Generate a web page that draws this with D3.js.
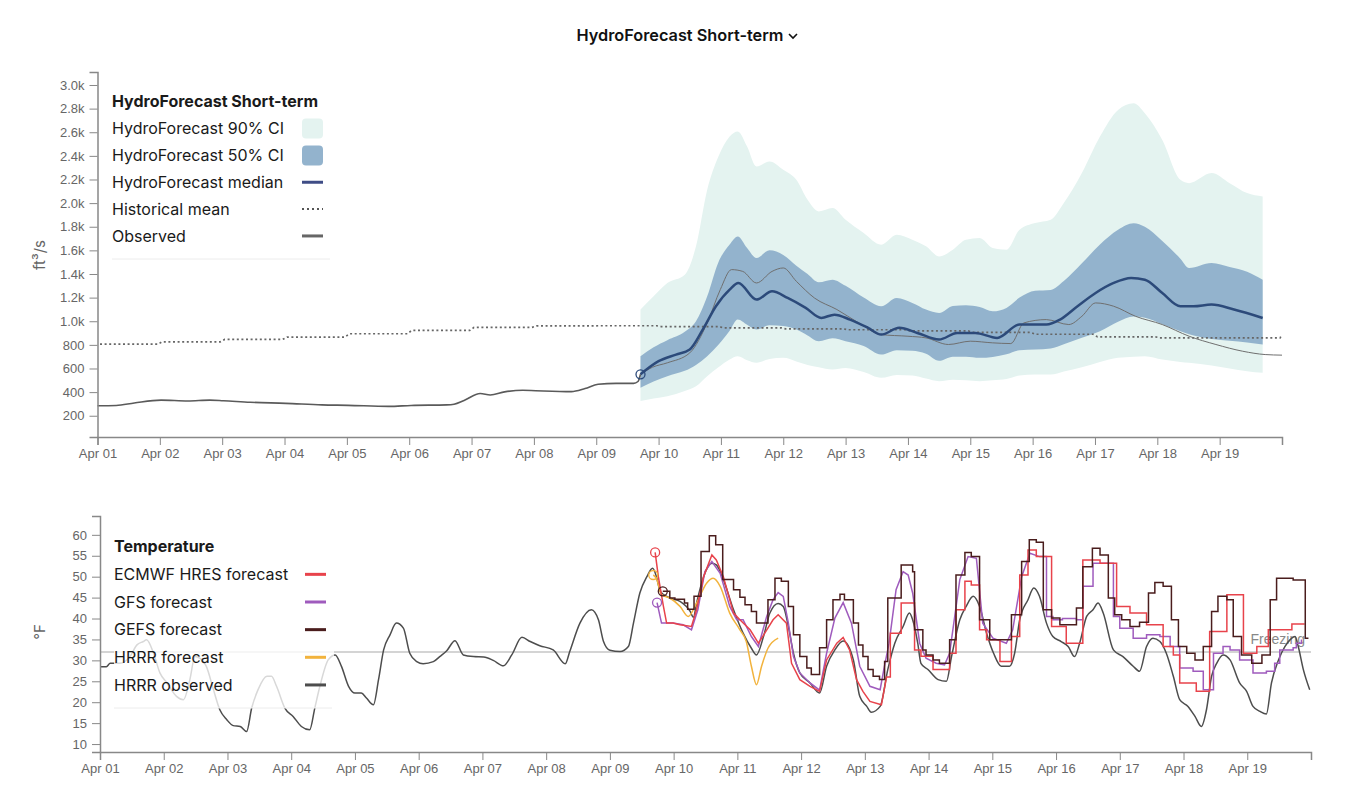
<!DOCTYPE html>
<html>
<head>
<meta charset="utf-8">
<script src="https://cdn.jsdelivr.net/npm/d3@7"></script>
<style>
  body { margin: 0; background: #fff; }
  svg { display: block; font-family: Inter, "Noto Sans", sans-serif; }
  .axis text { font-family: "Liberation Sans", Arial, sans-serif; font-size: 13px; fill: #666; }
  .axis path, .axis line { stroke: #888; }
  .axis path { stroke-width: 1.5; }
  .legend text { font-size: 16px; fill: #1a1a1a; }
  .legend .title { font-weight: 700; }
</style>
</head>
<body>
<svg width="1368" height="808"></svg>
<script>
// ---- streamflow (ft3/s), days since Apr 01 00:00 ----
const flowObserved = [
  [0, 285], [0.3, 287], [0.59, 308], [1.02, 332], [1.45, 325], [1.8, 332], [2.02, 327],
  [2.45, 314], [3.02, 305], [3.6, 292], [4.02, 288], [4.67, 279], [5.03, 287], [5.6, 292],
  [5.72, 298], [5.88, 330], [6.14, 388], [6.3, 376], [6.53, 402], [6.82, 416], [7.03, 412],
  [7.6, 404], [7.82, 430], [8.03, 466], [8.32, 474], [8.6, 474], [8.67, 490], [8.71, 551],
  [8.9, 610], [9.14, 648], [9.5, 732], [9.78, 986], [9.99, 1268], [10.17, 1437], [10.35, 1422],
  [10.57, 1324], [10.82, 1422], [11.0, 1451], [11.21, 1338], [11.5, 1197], [11.86, 1099],
  [12.21, 986], [12.57, 887], [13.0, 873], [13.29, 859], [13.65, 803], [14.0, 831],
  [14.36, 817], [14.65, 811], [14.86, 986], [15.22, 1014], [15.58, 972], [15.79, 1042],
  [16.01, 1155], [16.3, 1127], [16.65, 1042], [17.08, 972], [17.51, 873], [17.94, 803],
  [18.37, 746], [18.73, 718], [19.0, 713]
];
const histMean = [806, 826, 846, 866, 894, 922, 948, 960, 962, 955, 944, 935, 928, 918, 905, 890, 868, 860, 860, 890];
const bandDays = [8.71, 8.92, 9.14, 9.42, 9.6, 9.78, 9.96, 10.14, 10.27, 10.42, 10.57, 10.78, 11.0, 11.21,
  11.39, 11.57, 11.79, 12.0, 12.29, 12.57, 12.82, 13.07, 13.29, 13.5, 13.72, 13.93, 14.15, 14.36, 14.58,
  14.79, 15.04, 15.29, 15.5, 15.79, 16.08, 16.37, 16.62, 16.8, 17.08, 17.37, 17.51, 17.87, 18.16, 18.44, 18.69];
const ci90Hi = [1099, 1211, 1324, 1394, 1634, 2113, 2394, 2563, 2606, 2479, 2310, 2352, 2282, 2197,
  2028, 1930, 1958, 1859, 1747, 1648, 1732, 1690, 1634, 1549, 1606, 1690, 1704, 1620, 1606,
  1775, 1831, 1859, 2000, 2254, 2563, 2789, 2845, 2761, 2535, 2197, 2169, 2254, 2169, 2085, 2056];
const ci90Lo = [324, 345, 366, 410, 450, 535, 610, 676, 704, 670, 648, 680, 690, 660,
  630, 610, 592, 604, 570, 521, 545, 540, 515, 493, 505, 500, 493, 500, 510,
  540, 549, 549, 575, 610, 655, 690, 700, 704, 676, 655, 648, 625, 600, 577, 563];
const ci50Hi = [704, 780, 840, 910, 1000, 1211, 1500, 1650, 1718, 1620, 1535, 1600, 1560, 1470,
  1400, 1330, 1352, 1300, 1200, 1127, 1197, 1155, 1099, 1070, 1130, 1135, 1120, 1084, 1113,
  1200, 1258, 1265, 1340, 1490, 1650, 1775, 1830, 1800, 1680, 1530, 1451, 1493, 1460, 1420, 1352];
const ci50Lo = [437, 490, 535, 580, 630, 704, 800, 920, 1014, 970, 930, 965, 960, 930,
  880, 831, 855, 830, 790, 718, 755, 750, 725, 665, 700, 700, 690, 698, 720,
  755, 761, 770, 805, 860, 915, 995, 1040, 1030, 975, 915, 890, 850, 835, 820, 803];
const flowMedian = [
  [8.71, 551], [9.0, 662], [9.28, 718], [9.5, 761], [9.71, 930], [9.92, 1127], [10.14, 1268],
  [10.28, 1324], [10.57, 1183], [10.82, 1253], [11.07, 1197], [11.36, 1113], [11.61, 1028],
  [11.82, 1056], [12.07, 1014], [12.36, 944], [12.57, 887], [12.86, 944], [13.15, 901],
  [13.5, 845], [13.79, 901], [14.08, 901], [14.43, 859], [14.79, 972], [15.22, 972],
  [15.44, 1014], [15.72, 1127], [16.01, 1239], [16.3, 1324], [16.58, 1366], [16.8, 1352],
  [17.08, 1239], [17.37, 1127], [17.58, 1127], [17.87, 1141], [18.23, 1099], [18.69, 1028]
];

// ---- temperature (°F) ----
const hrrrObserved = [
  [0, 28.5], [0.1, 28.5], [0.16, 29.3], [0.31, 29.3], [0.47, 30.9], [0.58, 33.7], [0.68, 34.5],
  [0.73, 34.9], [0.84, 31.7], [0.94, 27], [1.05, 24.6], [1.2, 21.4], [1.31, 20.6], [1.41, 25.4],
  [1.49, 30.9], [1.57, 30.5], [1.67, 28.5], [1.78, 23], [1.88, 18.2], [1.99, 15.8], [2.09, 14.4],
  [2.2, 14.2], [2.3, 13], [2.38, 18.6], [2.48, 23], [2.62, 26.2], [2.69, 26.2], [2.77, 23.8],
  [2.9, 18.6], [3.03, 16.6], [3.16, 14.2], [3.29, 13.4], [3.37, 18.6], [3.45, 23.8], [3.58, 30.1],
  [3.69, 31.3], [3.79, 28.5], [3.9, 23.8], [4.0, 22.2], [4.1, 22.2], [4.18, 21], [4.29, 19.4],
  [4.37, 25.4], [4.45, 32.5], [4.55, 36.1], [4.65, 38.9], [4.76, 37.7], [4.86, 31.7], [4.97, 29.7],
  [5.07, 29.2], [5.23, 29.7], [5.33, 30.9], [5.44, 32.3], [5.57, 34.7], [5.7, 31.3], [5.86, 30.9],
  [6.02, 30.8], [6.17, 30], [6.33, 28.7], [6.46, 31.3], [6.62, 35.5], [6.75, 34.5], [6.9, 33.5],
  [7.11, 32.5], [7.3, 29.2], [7.37, 32.1], [7.53, 38.9], [7.71, 42.1], [7.82, 39.7], [7.9, 34.5],
  [8.0, 32.4], [8.16, 32.1], [8.29, 33.3], [8.37, 38.9], [8.47, 46.1], [8.58, 50], [8.67, 52],
  [8.73, 50], [8.79, 46.5], [8.94, 44.9], [9.1, 44.1], [9.26, 41.7], [9.31, 40.3], [9.36, 43.7],
  [9.47, 50], [9.6, 53.2], [9.67, 52.8], [9.78, 49.3], [9.94, 42.1], [10.09, 36.5], [10.22, 32.9],
  [10.3, 31.3], [10.41, 35.7], [10.51, 41.3], [10.64, 43.6], [10.72, 42.9], [10.8, 38.1],
  [10.88, 31.7], [10.98, 27], [11.14, 24.6], [11.29, 22.2], [11.4, 28.6], [11.53, 32.5],
  [11.66, 34.6], [11.82, 30.1], [11.92, 21.4], [12.03, 19], [12.1, 17.6], [12.24, 19],
  [12.36, 27.8], [12.47, 34.1], [12.6, 38.1], [12.7, 41.3], [12.75, 39.7], [12.83, 34.1],
  [12.88, 29.3], [12.99, 27.8], [13.15, 25.4], [13.28, 25], [13.36, 30.9], [13.49, 39.7],
  [13.59, 42.9], [13.7, 45.3], [13.8, 42.9], [13.91, 36.5], [14.02, 31.7], [14.14, 28.6],
  [14.27, 28.6], [14.35, 31.7], [14.43, 39.7], [14.56, 44.5], [14.65, 47.3], [14.74, 45.3],
  [14.85, 38.9], [14.95, 35.7], [15.08, 34.5], [15.19, 33.3], [15.29, 30.9], [15.37, 34.1],
  [15.48, 40.5], [15.58, 42.1], [15.66, 43.7], [15.74, 41.3], [15.9, 32.5], [16.05, 30.9],
  [16.21, 28.6], [16.31, 27.4], [16.42, 33.3], [16.52, 35.3], [16.63, 34.5], [16.73, 31.7],
  [16.84, 26.2], [16.94, 20.6], [17.07, 19], [17.18, 16.6], [17.28, 14.2], [17.36, 18.2],
  [17.44, 26.2], [17.52, 29.3], [17.62, 31.3], [17.73, 30.1], [17.88, 24.6], [17.99, 22.6],
  [18.09, 19], [18.2, 17.8], [18.3, 17.2], [18.38, 24.6], [18.49, 30.1], [18.59, 33.3],
  [18.67, 34.9], [18.75, 35.7], [18.8, 33.3], [18.88, 27.8], [18.98, 23]
];
const hrrrForecast = [
  [8.68, 50.4], [8.73, 49.6], [8.81, 45.7], [8.94, 44.9], [9.1, 42.9], [9.23, 40.5], [9.36, 43.7],
  [9.52, 48.5], [9.62, 49.6], [9.73, 47.7], [9.88, 41.3], [10.04, 37.3], [10.14, 34.5],
  [10.22, 28.6], [10.3, 24.2], [10.38, 28.6], [10.48, 32.9], [10.64, 35.3]
];
const gfsForecast = [
  [8.74, 43.8], [8.81, 38.9], [8.99, 38.9], [9.15, 38.5], [9.28, 37.3], [9.38, 42.1], [9.49, 51.2],
  [9.6, 53.6], [9.73, 50.8], [9.88, 42.9], [9.99, 39.7], [10.09, 39.7], [10.22, 35.7], [10.33, 33.3],
  [10.46, 40.5], [10.56, 44.5], [10.64, 46.2], [10.72, 45.3], [10.8, 38.9], [10.88, 30.9],
  [10.98, 27], [11.14, 24.6], [11.29, 22.9], [11.4, 31.7], [11.53, 40.1], [11.66, 43.8],
  [11.79, 38.9], [11.92, 28.6], [12.08, 23.8], [12.24, 23], [12.3, 28], [12.38, 34.1],
  [12.49, 46.9], [12.6, 51.2], [12.68, 50.4], [12.75, 46.1], [12.86, 34.1], [12.96, 30.5],
  [13.12, 29.3], [13.25, 28.9], [13.33, 31.7], [13.49, 49.3], [13.62, 54.8], [13.75, 54.4],
  [13.85, 38.9], [14.01, 35.3], [14.22, 34.1], [14.32, 37.3], [14.46, 50], [14.59, 55.6],
  [14.74, 54.8], [14.85, 40.5], [14.95, 39.7], [15.1, 40], [15.32, 39.7], [15.42, 47.7],
  [15.58, 53.2], [15.79, 53.2], [15.9, 40.5], [16.0, 37.7], [16.21, 35.3], [16.42, 36.1],
  [16.63, 35.7], [16.79, 33.3], [16.94, 28.2], [17.15, 27.4], [17.31, 23], [17.41, 23],
  [17.47, 31.7], [17.62, 33.3], [17.73, 32.5], [17.88, 30.1], [18.09, 27], [18.3, 27.4],
  [18.43, 29.3], [18.51, 32.5], [18.72, 33], [18.77, 34.1], [18.85, 35]
];
const ecmwfForecast = [
  [8.71, 55.8], [8.76, 50], [8.84, 42.9], [8.89, 38.9], [8.99, 38.9], [9.1, 38.5], [9.28, 38.1],
  [9.36, 42.1], [9.47, 50], [9.6, 55.2], [9.67, 54], [9.78, 50], [9.94, 41.3], [10.04, 39.7],
  [10.2, 37.3], [10.33, 34.1], [10.43, 36.5], [10.56, 39.7], [10.64, 40.9], [10.77, 38.9],
  [10.85, 29.3], [10.98, 25.4], [11.14, 23.8], [11.29, 22.6], [11.4, 30.1], [11.56, 34.1],
  [11.66, 35.5], [11.76, 32.5], [11.87, 25.4], [11.97, 22.6], [12.08, 20.2], [12.26, 19.4],
  [12.34, 26], [12.4, 36.5], [12.57, 43.7], [12.78, 32.5], [12.88, 31], [13.07, 27.8],
  [13.33, 31.7], [13.43, 42.1], [13.57, 48.9], [13.67, 48], [13.8, 37.3], [13.91, 34.9],
  [14.12, 29.7], [14.3, 35.7], [14.43, 50.4], [14.56, 56.4], [14.69, 54.8], [14.93, 38.1],
  [15.16, 34.1], [15.42, 54], [15.69, 53.2], [15.95, 42.9], [16.16, 41.3], [16.42, 38.5],
  [16.68, 33.3], [16.84, 31.3], [16.94, 24.6], [17.2, 22.6], [17.41, 36.9], [17.68, 45.7],
  [17.94, 31.7], [18.15, 33.3], [18.33, 37.3], [18.7, 38.7], [18.9, 38.7]
];
const gefsForecast = [
  [8.83, 46.5], [8.94, 44.9], [9.02, 44.6], [9.17, 43.7], [9.22, 42.2], [9.32, 45.3], [9.43, 56],
  [9.56, 59.8], [9.66, 57.6], [9.77, 49.3], [9.94, 46.9], [10.04, 45.1], [10.12, 43.3],
  [10.22, 41.7], [10.3, 38.9], [10.48, 44.5], [10.59, 49.6], [10.69, 48.9], [10.8, 42.9],
  [10.88, 36.1], [10.98, 30.9], [11.09, 28.2], [11.16, 26.6], [11.29, 33], [11.4, 39.7],
  [11.5, 44.5], [11.61, 45.8], [11.68, 44.5], [11.82, 38.9], [11.9, 33.7], [11.97, 30.9],
  [12.05, 27.8], [12.13, 26.2], [12.23, 25.4], [12.31, 29.7], [12.36, 44.9], [12.57, 52.8],
  [12.75, 51.2], [12.78, 37.3], [12.91, 32.5], [12.96, 31.3], [13.07, 30.1], [13.17, 29.3],
  [13.33, 34.9], [13.43, 50.4], [13.57, 55.8], [13.67, 54.8], [13.8, 39.7], [13.96, 34.9],
  [14.3, 40.9], [14.46, 53.6], [14.58, 58.8], [14.69, 58.2], [14.8, 42.1], [14.93, 40.1],
  [15.06, 38.5], [15.32, 42.5], [15.42, 52.4], [15.57, 56.8], [15.69, 55.2], [15.82, 44.9],
  [15.92, 40.9], [16.03, 39.7], [16.16, 38.1], [16.31, 39.1], [16.45, 46.1], [16.55, 48.6],
  [16.68, 47.7], [16.81, 39.7], [16.92, 33.3], [17.05, 31.7], [17.18, 30.1], [17.31, 33.3],
  [17.44, 41.7], [17.54, 45.3], [17.68, 44.5], [17.78, 35.7], [17.91, 31.3], [18.07, 29.3],
  [18.23, 31.3], [18.36, 44.5], [18.46, 49.6], [18.72, 49.2], [18.91, 35.3], [18.96, 35.3]
];
const freezingF = 32;
const dayTicks = d3.range(0, 19);
const flowTicks = d3.range(200, 3001, 200);
const tempTicks = d3.range(10, 61, 5);

// ---- setup ----
const svg = d3.select("svg");
const t0 = Date.UTC(2024, 3, 1);
const date = (d) => new Date(t0 + d * 864e5);
const fmtDay = d3.utcFormat("%b %d");

const xTop = d3.scaleUtc().domain([date(0), date(19)]).range([97.5, 1282]);
const yTop = d3.scaleLinear().domain([20, 3110]).range([437, 72]);
const xBot = d3.scaleUtc().domain([date(0), date(19)]).range([100, 1311]);
const yBot = d3.scaleLinear().domain([8.1, 64.5]).range([752, 516]);

// step-after shape for the later part of a series
function stepFrom(pts, from) {
  const out = [];
  pts.forEach((p, i) => {
    if (i > 0 && p[0] >= from) out.push([p[0], pts[i - 1][1]]);
    out.push(p);
  });
  return out;
}

// ---- title ----
svg.append("text")
  .attr("x", 680).attr("y", 35).attr("dy", "0.35em")
  .attr("text-anchor", "middle")
  .style("font-size", "16.3px").style("font-weight", 600).style("fill", "#111")
  .text("HydroForecast Short-term");
svg.append("path")
  .attr("d", "M789,34 L793,38 L797,34")
  .attr("fill", "none").attr("stroke", "#111").attr("stroke-width", 1.6);

// ---- top chart ----
const gTop = svg.append("g");
const bands = bandDays.map((d, i) => ({ d, lo90: ci90Lo[i], hi90: ci90Hi[i], lo50: ci50Lo[i], hi50: ci50Hi[i] }));
const band = (lo, hi) => d3.area()
  .x((b) => xTop(date(b.d)))
  .y0((b) => yTop(b[lo]))
  .y1((b) => yTop(b[hi]))
  .curve(d3.curveMonotoneX);

gTop.append("path").datum(bands).attr("fill", "#e4f3f0").attr("d", band("lo90", "hi90"));
gTop.append("path").datum(bands).attr("fill", "#93b3cd").attr("d", band("lo50", "hi50"));

const lineTop = d3.line().x((p) => xTop(date(p[0]))).y((p) => yTop(p[1]));

const meanPts = [];
histMean.forEach((v, i) => {
  if (i < histMean.length - 1) meanPts.push([i + 0.04, v], [i + 0.97, v]);
  else meanPts.push([i, v]);
});
gTop.append("path").datum(meanPts)
  .attr("fill", "none").attr("stroke", "#666").attr("stroke-width", 1.7)
  .attr("stroke-dasharray", "2,2.6").attr("d", lineTop);

const fcStart = flowMedian[0][0];
gTop.append("path").datum(flowObserved.filter((p) => p[0] <= fcStart))
  .attr("fill", "none").attr("stroke", "#5a5a5a").attr("stroke-width", 1.6)
  .attr("d", lineTop.curve(d3.curveMonotoneX));
gTop.append("path").datum(flowObserved.filter((p) => p[0] >= fcStart))
  .attr("fill", "none").attr("stroke", "#6f6f6f").attr("stroke-width", 1)
  .attr("d", lineTop.curve(d3.curveMonotoneX));
gTop.append("path").datum(flowMedian)
  .attr("fill", "none").attr("stroke", "#2c4a7a").attr("stroke-width", 2.5)
  .attr("d", lineTop.curve(d3.curveMonotoneX));
gTop.append("circle")
  .attr("cx", xTop(date(flowMedian[0][0]))).attr("cy", yTop(flowMedian[0][1])).attr("r", 4.5)
  .attr("fill", "none").attr("stroke", "#2c4a7a").attr("stroke-width", 1.3);

gTop.append("g").attr("class", "axis")
  .attr("transform", "translate(0,437)")
  .call(d3.axisBottom(xTop).tickValues(dayTicks.map(date)).tickFormat(fmtDay)
    .tickSize(8).tickPadding(4));
gTop.append("g").attr("class", "axis")
  .attr("transform", "translate(97.5,0)")
  .call(d3.axisLeft(yTop).tickValues(flowTicks).tickSize(8).tickPadding(5)
    .tickFormat((d) => (d >= 1000 ? (d / 1000).toFixed(1) + "k" : d)));
gTop.append("text")
  .attr("transform", "translate(40,255) rotate(-90)").attr("dy", "0.35em")
  .attr("text-anchor", "middle").style("font-size", "15px").style("fill", "#666")
  .text("ft³/s");

// ---- bottom chart ----
const gBot = svg.append("g");
gBot.append("line")
  .attr("x1", 100).attr("x2", 1311)
  .attr("y1", yBot(freezingF)).attr("y2", yBot(freezingF))
  .attr("stroke", "#c6c6c6").attr("stroke-width", 1.5);
gBot.append("text")
  .attr("x", 1305).attr("y", yBot(freezingF) - 13).attr("dy", "0.35em")
  .attr("text-anchor", "end")
  .style("font-family", "'Liberation Sans', Arial, sans-serif")
  .style("font-size", "14px").style("fill", "#888")
  .text("Freezing");

const lineBot = d3.line().x((p) => xBot(date(p[0]))).y((p) => yBot(p[1]));
const tempSeries = [
  { pts: hrrrObserved, color: "#4d4d4d", curve: d3.curveMonotoneX, dot: false },
  { pts: hrrrForecast, color: "#f2b33d", curve: d3.curveMonotoneX, dot: true },
  { pts: stepFrom(gfsForecast, 14.8), color: "#9f5bbd", curve: d3.curveLinear, dot: true },
  { pts: stepFrom(ecmwfForecast, 12.38), color: "#e8434b", curve: d3.curveLinear, dot: true },
  { pts: stepFrom(gefsForecast, 0), color: "#4a1d1d", curve: d3.curveLinear, dot: true }
];
tempSeries.forEach((s) => {
  gBot.append("path").datum(s.pts)
    .attr("fill", "none").attr("stroke", s.color).attr("stroke-width", 1.5)
    .attr("d", lineBot.curve(s.curve));
});
tempSeries.filter((s) => s.dot).forEach((s) => {
  gBot.append("circle")
    .attr("cx", xBot(date(s.pts[0][0]))).attr("cy", yBot(s.pts[0][1])).attr("r", 4.5)
    .attr("fill", "none").attr("stroke", s.color).attr("stroke-width", 1.3);
});

gBot.append("g").attr("class", "axis")
  .attr("transform", "translate(0,752)")
  .call(d3.axisBottom(xBot).tickValues(dayTicks.map(date)).tickFormat(fmtDay)
    .tickSize(8).tickPadding(4));
gBot.append("g").attr("class", "axis")
  .attr("transform", "translate(100,0)")
  .call(d3.axisLeft(yBot).tickValues(tempTicks).tickSize(8).tickPadding(5));
gBot.append("text")
  .attr("transform", "translate(40,632) rotate(-90)").attr("dy", "0.35em")
  .attr("text-anchor", "middle").style("font-size", "15px").style("fill", "#666")
  .text("°F");

// ---- legends ----
function legend(x, top, bottom, titleY, gap, title, rows, swX) {
  const lg = svg.append("g").attr("class", "legend");
  lg.append("rect").attr("x", x).attr("y", top).attr("width", 220).attr("height", bottom - top)
    .attr("fill", "#fff").attr("opacity", 0.78);
  lg.append("line").attr("x1", x).attr("x2", x + 218).attr("y1", bottom).attr("y2", bottom)
    .attr("stroke", "#ececec");
  lg.append("text").attr("class", "title").attr("x", x).attr("y", titleY).attr("dy", "0.35em").text(title);
  rows.forEach((r, i) => {
    const cy = titleY + gap * (i + 1);
    lg.append("text").attr("x", x).attr("y", cy).attr("dy", "0.35em").text(r.label);
    if (r.type === "box") {
      lg.append("rect").attr("x", swX).attr("y", cy - 10).attr("width", 21).attr("height", 20)
        .attr("rx", 4).attr("fill", r.color);
    } else {
      lg.append("line").attr("x1", swX).attr("x2", swX + 21).attr("y1", cy).attr("y2", cy)
        .attr("stroke", r.color).attr("stroke-width", r.type === "dot" ? 2 : 3)
        .attr("stroke-dasharray", r.type === "dot" ? "2,3" : null);
    }
  });
}

legend(112, 84, 259, 101.7, 26.85, "HydroForecast Short-term", [
  { label: "HydroForecast 90% CI", type: "box", color: "#e4f3f0" },
  { label: "HydroForecast 50% CI", type: "box", color: "#93b3cd" },
  { label: "HydroForecast median", type: "line", color: "#3f4d86" },
  { label: "Historical mean", type: "dot", color: "#555" },
  { label: "Observed", type: "line", color: "#666" }
], 302);

legend(114, 528, 708, 546.7, 27.65, "Temperature", [
  { label: "ECMWF HRES forecast", type: "line", color: "#e8434b" },
  { label: "GFS forecast", type: "line", color: "#9f5bbd" },
  { label: "GEFS forecast", type: "line", color: "#4a1d1d" },
  { label: "HRRR forecast", type: "line", color: "#f2b33d" },
  { label: "HRRR observed", type: "line", color: "#4d4d4d" }
], 305);
</script>
</body>
</html>
